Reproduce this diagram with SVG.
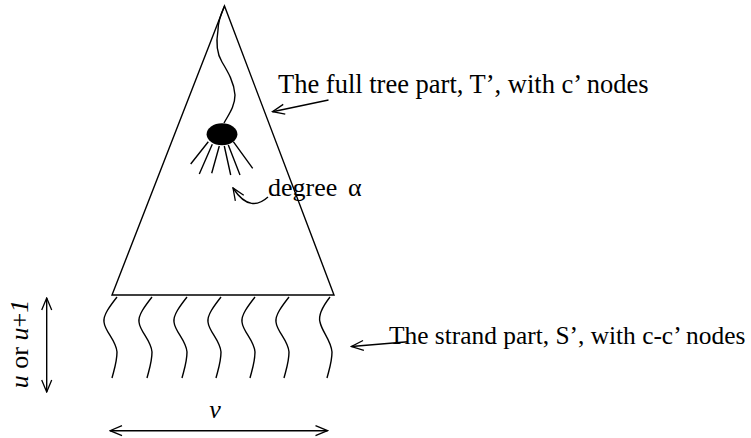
<svg xmlns="http://www.w3.org/2000/svg" width="751" height="438" viewBox="0 0 751 438">
<style>
.ln{fill:none;stroke:#000;stroke-width:1.4}
.t{font-family:"Liberation Serif","Times New Roman",serif;fill:#000}
</style>
<defs>
<marker id="ah" markerWidth="14" markerHeight="12" refX="13" refY="6" orient="auto-start-reverse" markerUnits="userSpaceOnUse">
<path d="M1,1 L13,6 L1,11" fill="none" stroke="#000" stroke-width="1.3"/>
</marker>
</defs>
<rect width="751" height="438" fill="#fff"/>
<g id="tree">
<path class="ln" d="M224.5,6 L112,295 L334,295 Z" stroke-width="1.5"/>
<path class="ln" d="M224.5,6 C220,16 218,24 218,30 C216,42 217,54 222,62 C228,72 234,82 235,95 C235,106 229,114 224,123"/>
</g>
<g id="node">
<ellipse cx="222" cy="134.3" rx="15.4" ry="11" fill="#000"/>
<path class="ln" d="M208.3,141.7 L190.7,164 M212.3,144.3 L199.3,174 M219.3,146 L211.7,173.3 M224.3,146 L230.7,175 M228.3,145 L240,175 M233.3,141.7 L252.7,168.3"/>
</g>
<g id="strands">
<path class="ln" d="M117,297 C110,306 103,315 104,322 C105,332 116,340 117,352 C117,362 114,370 112,378"/>
<path class="ln" d="M152,297 C145,306 138,315 139,322 C140,332 151,340 152,352 C152,362 149,370 147,378"/>
<path class="ln" d="M187,297 C180,306 173,315 174,322 C175,332 186,340 187,352 C187,362 184,370 182,378"/>
<path class="ln" d="M221,297 C214,306 207,315 208,322 C209,332 220,340 221,352 C221,362 218,370 216,378"/>
<path class="ln" d="M255,297 C248,306 241,315 242,322 C243,332 254,340 255,352 C255,362 252,370 250,378"/>
<path class="ln" d="M289,297 C282,306 275,315 276,322 C277,332 288,340 289,352 C289,362 286,370 284,378"/>
<path class="ln" d="M330,297 C323,306 318,315 320,322 C322,332 331,340 332,352 C332,362 329,370 327,378"/>
</g>
<g id="connectors">
<path class="ln" d="M328.5,100 L272.5,111.7" marker-end="url(#ah)"/>
<path class="ln" d="M408,341.7 L351.5,346.5" marker-end="url(#ah)"/>
<path class="ln" d="M268,197 C258,206 246,208 233,188" marker-end="url(#ah)"/>
<path class="ln" d="M46.7,298 L46.7,392" marker-start="url(#ah)" marker-end="url(#ah)"/>
<path class="ln" d="M110,430.7 L327.5,430.7" marker-start="url(#ah)" marker-end="url(#ah)"/>
</g>
<g id="labels">
<text class="t" x="278" y="93" font-size="26.5">The full tree part, T’, with c’ nodes</text>
<text class="t" x="268" y="196" font-size="26">degree<tspan x="348">α</tspan></text>
<text class="t" x="389" y="343.5" font-size="25.4">The strand part, S’, with c-c’ nodes</text>
<text class="t" x="0" y="0" font-size="26" transform="translate(28,344) rotate(-90)" text-anchor="middle"><tspan font-style="italic">u</tspan> or <tspan font-style="italic">u</tspan>+<tspan font-style="italic">1</tspan></text>
<text class="t" x="215" y="418" font-size="26" font-style="italic" text-anchor="middle">v</text>
</g>
</svg>
